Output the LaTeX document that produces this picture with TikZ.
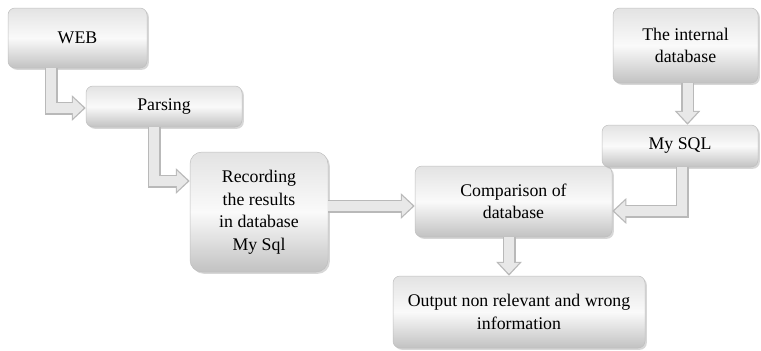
\documentclass[tikz,border=0pt]{standalone}
\usepackage{fontspec}
\setmainfont{Liberation Serif}
\usetikzlibrary{arrows.meta,shadows,calc}
\tikzset{
  box/.style={rectangle, rounded corners=7pt, draw=gray!50, line width=0.5pt,
    top color=gray!22, bottom color=gray!48, middle color=gray!4,
    drop shadow={shadow xshift=1.8pt, shadow yshift=-1.8pt, fill=gray!70, opacity=0.45},
    align=center, inner sep=2pt, font=\fontsize{17.8}{22.5}\selectfont},
  arrowout/.style={line width=13pt, draw=gray!55, -{Triangle[length=14pt,width=25pt]}},
  arrowin/.style={line width=10pt, draw=gray!18, shorten >=2pt, -{Triangle[length=11pt,width=20pt]}}
}
\begin{document}
\begin{tikzpicture}[x=1pt,y=-1pt]
\useasboundingbox (0,0) rectangle (761,351);
\node[box, minimum width=139pt, minimum height=60pt] (web) at (77.5,38) {WEB};
\node[box, minimum width=156pt, minimum height=41pt] (parsing) at (164,106.5) {Parsing};
\node[box, minimum width=138pt, minimum height=120pt, rounded corners=12pt] (rec) at (259,212) {Recording\\the results\\in database\\My Sql};
\node[box, minimum width=197pt, minimum height=71pt] (comp) at (513.5,201.5) {Comparison of\\database};
\node[box, minimum width=252pt, minimum height=72pt] (out) at (519,312) {Output non relevant and wrong\\information};
\node[box, minimum width=145pt, minimum height=75pt] (int) at (685.5,45.5) {The internal\\database};
\node[box, minimum width=156pt, minimum height=42pt] (mysql) at (680,146) {My SQL};

\coordinate (a1) at ([xshift=-26.5pt]web.south);
\coordinate (a2) at ([yshift=-1.5pt]parsing.west);
\coordinate (b1) at ([xshift=-10pt]parsing.south);
\coordinate (b2) at ([yshift=31pt]rec.west);
\coordinate (c1) at ([yshift=6pt]rec.east);
\coordinate (d1) at ([xshift=-4.5pt]comp.south);
\coordinate (e1) at ([xshift=2pt]int.south);
\coordinate (f1) at ([xshift=2pt]mysql.south);
\coordinate (f2) at ([yshift=-9.5pt]comp.east);

\foreach \s in {arrowout,arrowin}{
  \draw[\s] (a1) |- (a2);
  \draw[\s] (b1) |- (b2);
  \draw[\s] (c1) -- (c1 -| comp.west);
  \draw[\s] (d1) -- (d1 |- out.north);
  \draw[\s] (e1) -- (e1 |- mysql.north);
  \draw[\s] (f1) |- (f2);
}
\end{tikzpicture}
\end{document}
